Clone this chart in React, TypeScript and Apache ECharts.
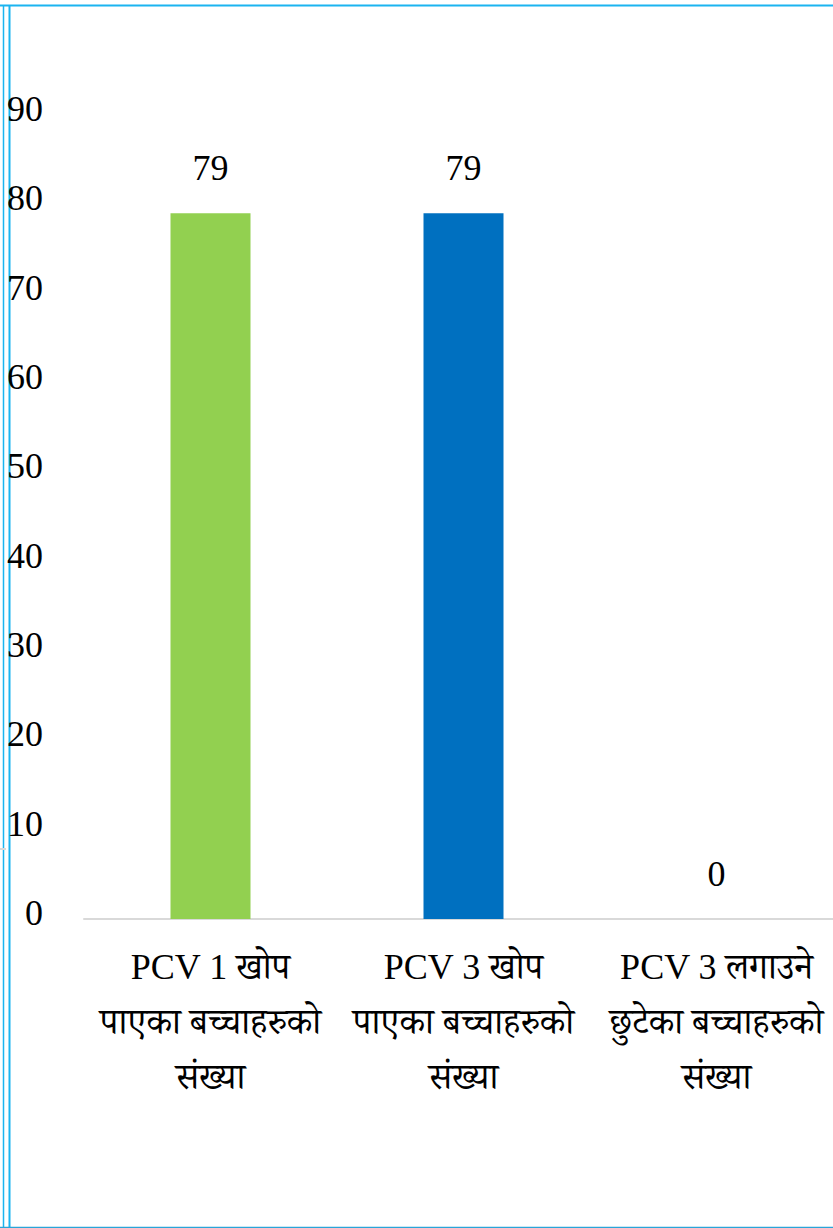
import React, { useEffect, useRef } from "react";
import * as echarts from "echarts";

const categories = [
  "PCV 1 खोप\nपाएका बच्चाहरुको\nसंख्या",
  "PCV 3 खोप\nपाएका बच्चाहरुको\nसंख्या",
  "PCV 3 लगाउने\nछुटेका बच्चाहरुको\nसंख्या",
];
const values = [79, 79, 0];
const barColors = ["#92D050", "#0070C0", "#A5A5A5"];
const yTicks = { min: 0, max: 90, interval: 10 };

const FONT = "'Liberation Serif', 'Times New Roman', 'Noto Serif Devanagari', 'Noto Sans Devanagari', serif";

export default function App() {
  const ref = useRef<HTMLDivElement>(null);
  useEffect(() => {
    if (!ref.current) return;
    const chart = echarts.init(ref.current, undefined, { renderer: "svg" });
    chart.setOption({
      animation: false,
      backgroundColor: "#ffffff",
      grid: { left: 84, top: 115, width: 759, height: 804, containLabel: false },
      xAxis: {
        type: "category",
        data: categories,
        axisLine: { show: true, lineStyle: { color: "#D9D9D9", width: 2 } },
        axisTick: { show: false },
        axisLabel: {
          interval: 0,
          margin: 20,
          color: "#000000",
          fontSize: 36,
          lineHeight: 55,
          fontFamily: FONT,
          verticalAlign: "top",
        },
      },
      yAxis: {
        type: "value",
        min: yTicks.min,
        max: yTicks.max,
        interval: yTicks.interval,
        axisLine: { show: false },
        axisTick: { show: false },
        splitLine: { show: false },
        axisLabel: {
          margin: 41,
          color: "#000000",
          fontSize: 36,
          fontFamily: FONT,
          verticalAlign: "bottom",
          lineHeight: 12,
        },
      },
      series: [
        {
          type: "bar",
          barWidth: 80,
          data: values.map((v, i) => ({ value: v, itemStyle: { color: barColors[i] } })),
          label: {
            show: true,
            position: "top",
            distance: 27,
            color: "#000000",
            fontSize: 36,
            lineHeight: 36,
            fontFamily: FONT,
          },
        },
      ],
      graphic: [
        { type: "line", shape: { x1: 0, y1: 5.5, x2: 833, y2: 5.5 }, style: { stroke: "#1BB4F0", lineWidth: 2 } },
        { type: "line", shape: { x1: 3.5, y1: 5, x2: 3.5, y2: 1228 }, style: { stroke: "#1BB4F0", lineWidth: 1.5 } },
        { type: "line", shape: { x1: 9.5, y1: 5, x2: 9.5, y2: 1228 }, style: { stroke: "#1BB4F0", lineWidth: 2 } },
        { type: "line", shape: { x1: 0, y1: 1227.5, x2: 833, y2: 1227.5 }, style: { stroke: "#2AA5D8", lineWidth: 1.5 } },
        { type: "line", shape: { x1: 0, y1: 849, x2: 6, y2: 849 }, style: { stroke: "#D9D9D9", lineWidth: 2 } },
      ],
    });
    return () => chart.dispose();
  }, []);
  return (
    <div style={{ position: "fixed", left: 0, top: 0, width: 833, height: 1228, overflow: "hidden", background: "#fff" }}>
      <div ref={ref} style={{ width: 843, height: 1228 }} />
    </div>
  );
}
